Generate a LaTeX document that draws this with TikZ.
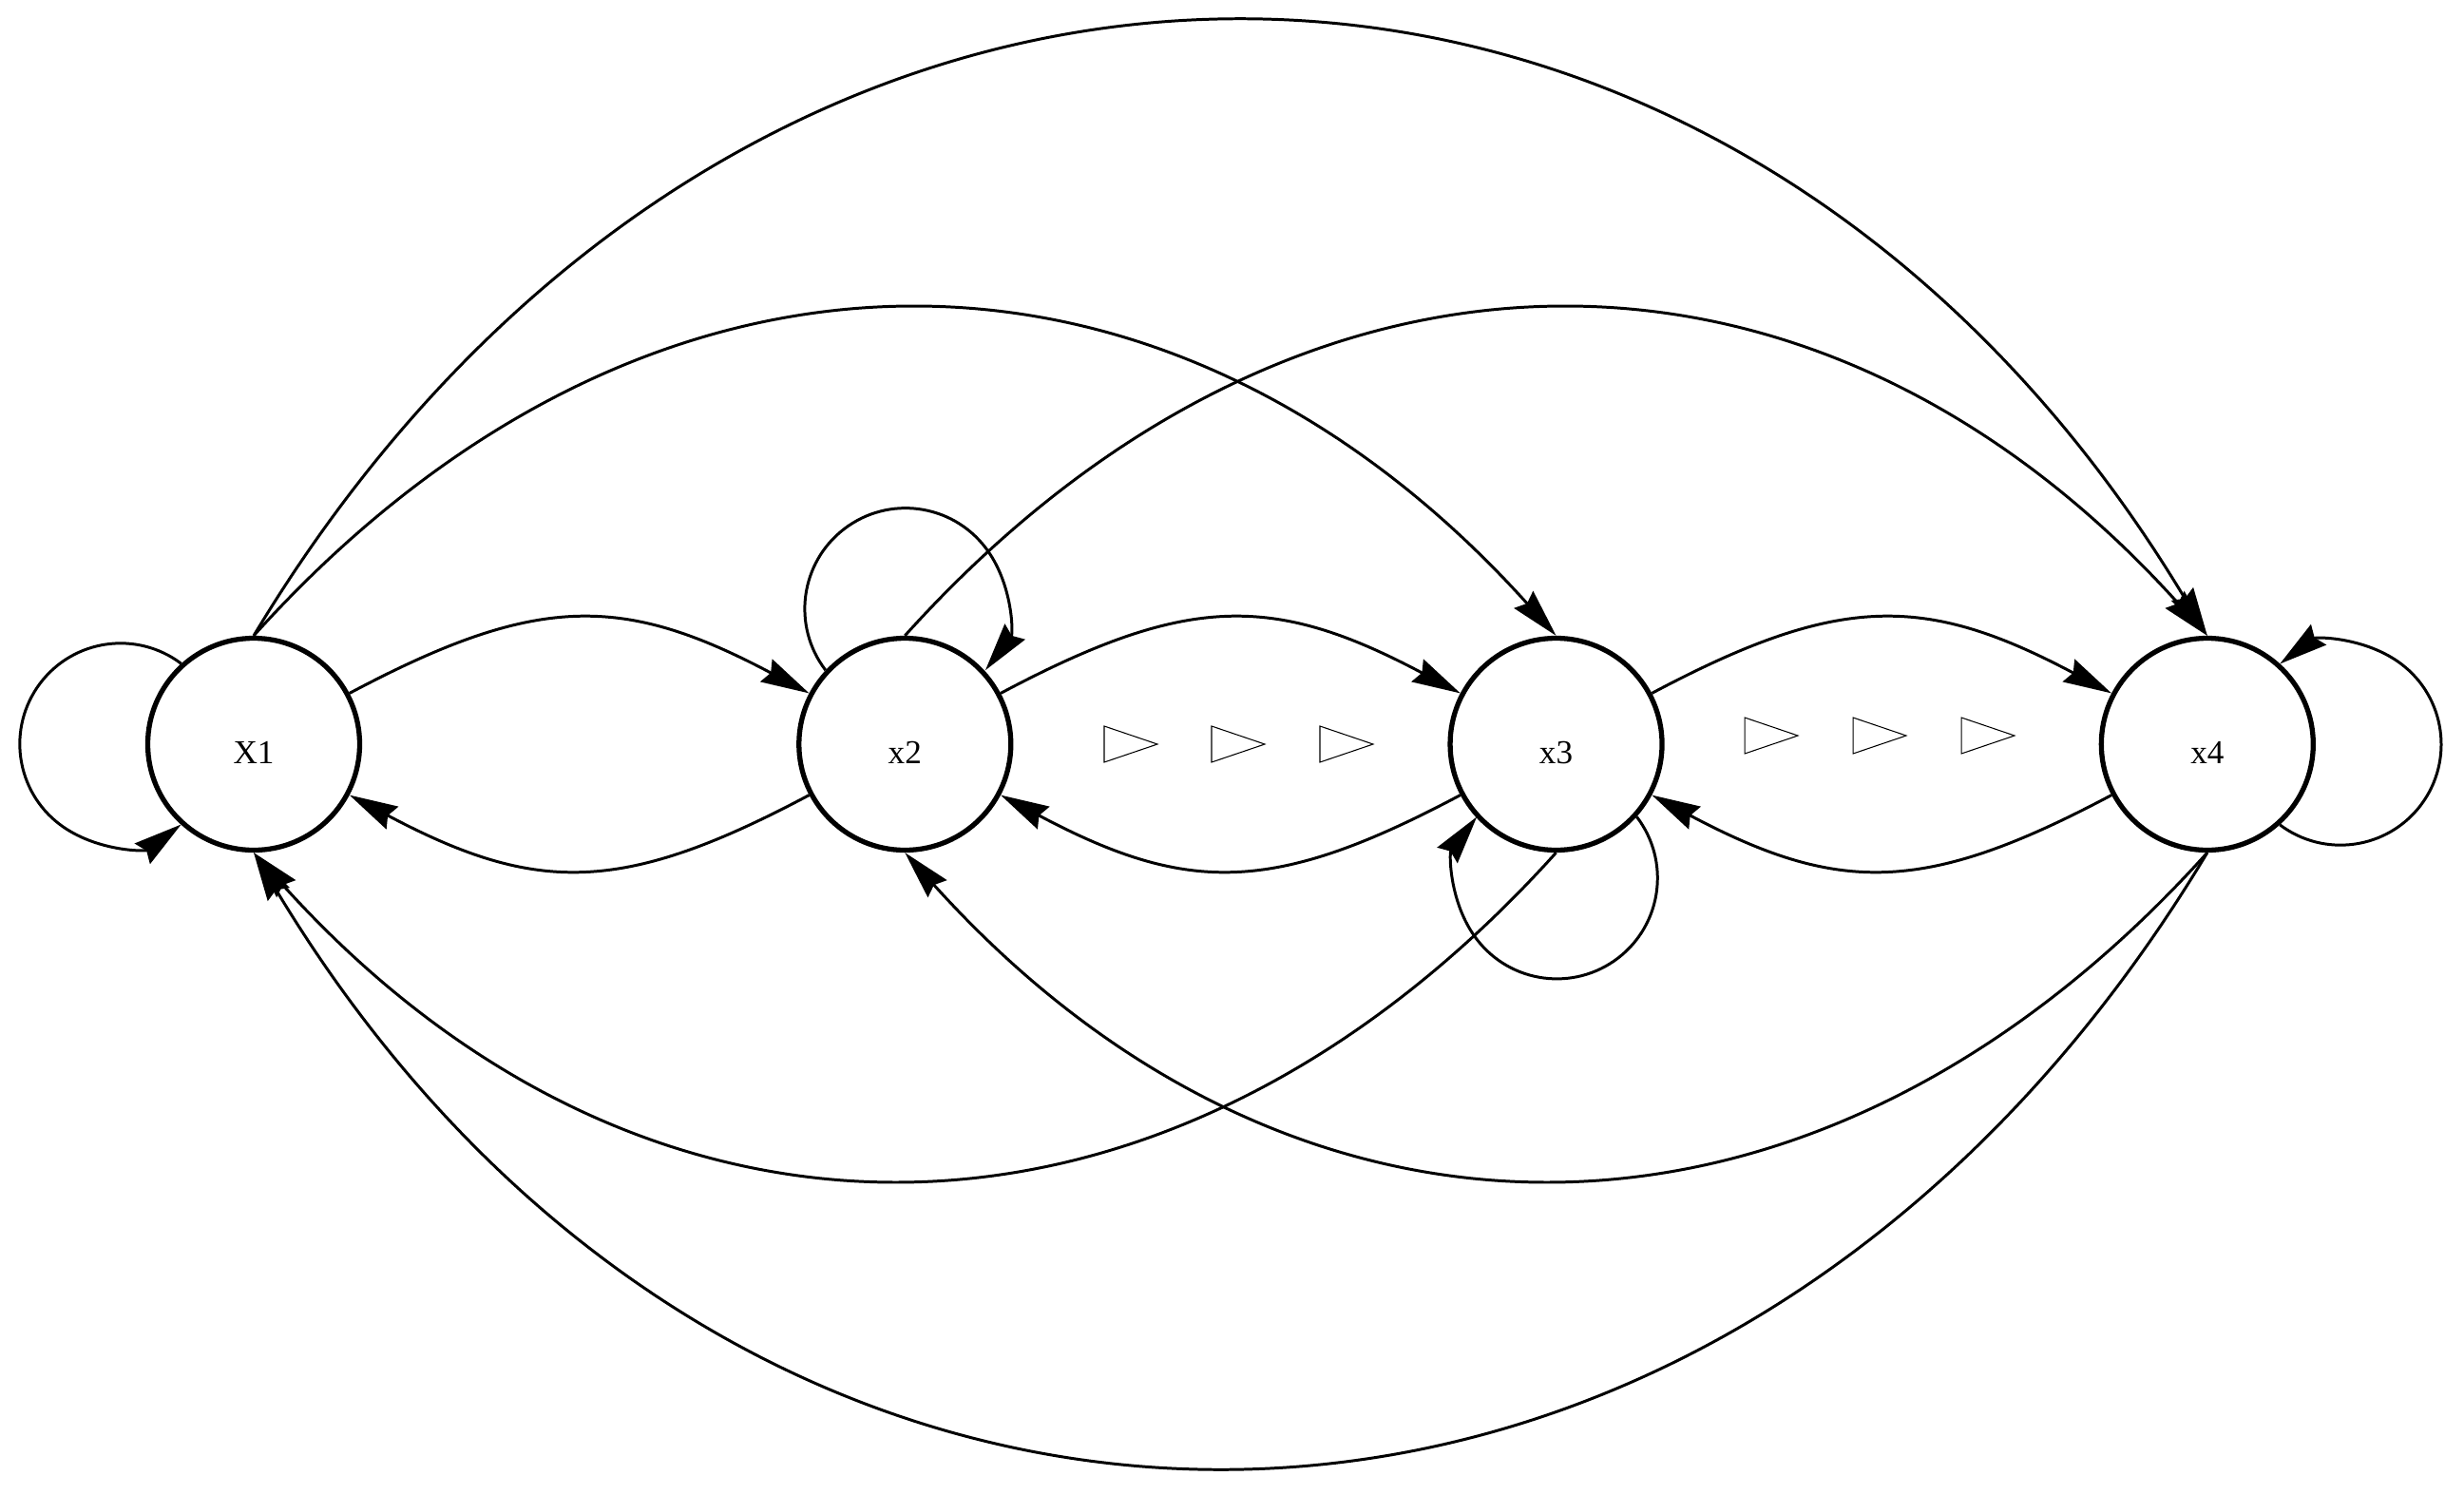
\documentclass[tikz,border=0pt]{standalone}
\usepackage{fontspec}
\setmainfont{Liberation Serif}
\usetikzlibrary{arrows.meta, positioning}

\begin{document}
\begin{tikzpicture}[
  state/.style={circle, draw, line width=1.5pt, minimum size=2.23cm, inner sep=0pt,
                font=\fontsize{10}{12}\selectfont, text height=11.4pt, text depth=0pt},
  link/.style={-{Stealth[length=14.5pt, width=7.6pt, inset=1.5pt]}, line width=0.85pt},
  tri/.style={line width=0.3pt},
]
  \useasboundingbox (0,0) rectangle (25.93,15.72);

  % states
  \node[state] (x1) at (2.67,7.89) {X1};
  \node[state, right=4.57cm of x1] (x2) {x2};
  \node[state, right=4.57cm of x2] (x3) {x3};
  \node[state, right=4.57cm of x3] (x4) {x4};

  % self loops
  \draw[link] (x1.132) arc[start angle=53, end angle=307, radius=1.06];
  \draw[link] (x2.137.5) arc[start angle=217.5, end angle=-37.5, radius=1.06];
  \draw[link] (x3.-42.5) arc[start angle=37.5, end angle=-217.5, radius=1.06];
  \draw[link] (x4.-48) arc[start angle=-127, end angle=127, radius=1.06];

  % neighbours
  \draw[link] (x1) to[bend left=28, looseness=1.18] (x2);
  \draw[link] (x2) to[bend left=28, looseness=1.18] (x1);
  \draw[link] (x2) to[bend left=28, looseness=1.18] (x3);
  \draw[link] (x3) to[bend left=28, looseness=1.18] (x2);
  \draw[link] (x3) to[bend left=28, looseness=1.18] (x4);
  \draw[link] (x4) to[bend left=28, looseness=1.18] (x3);

  % long jumps over the top
  \draw[link] (x1.north) to[out=48, in=132, looseness=1.15] (x3.north);
  \draw[link] (x2.north) to[out=48, in=132, looseness=1.15] (x4.north);
  \draw[link] (x1.north) to[out=59, in=121, looseness=1.25] (x4.north);
  % long jumps underneath
  \draw[link] (x3.south) to[out=-132, in=-48, looseness=1.15] (x1.south);
  \draw[link] (x4.south) to[out=-132, in=-48, looseness=1.15] (x2.south);
  \draw[link] (x4.south) to[out=-121, in=-59, looseness=1.25] (x1.south);

  % little triangles
  \foreach \tx in {11.62, 12.75, 13.89}
    \draw[tri] (\tx,8.08) -- ++(0.56,-0.19) -- ++(-0.56,-0.19) -- cycle;
  \foreach \tx in {18.36, 19.50, 20.64}
    \draw[tri] (\tx,8.17) -- ++(0.56,-0.19) -- ++(-0.56,-0.19) -- cycle;
\end{tikzpicture}
\end{document}
